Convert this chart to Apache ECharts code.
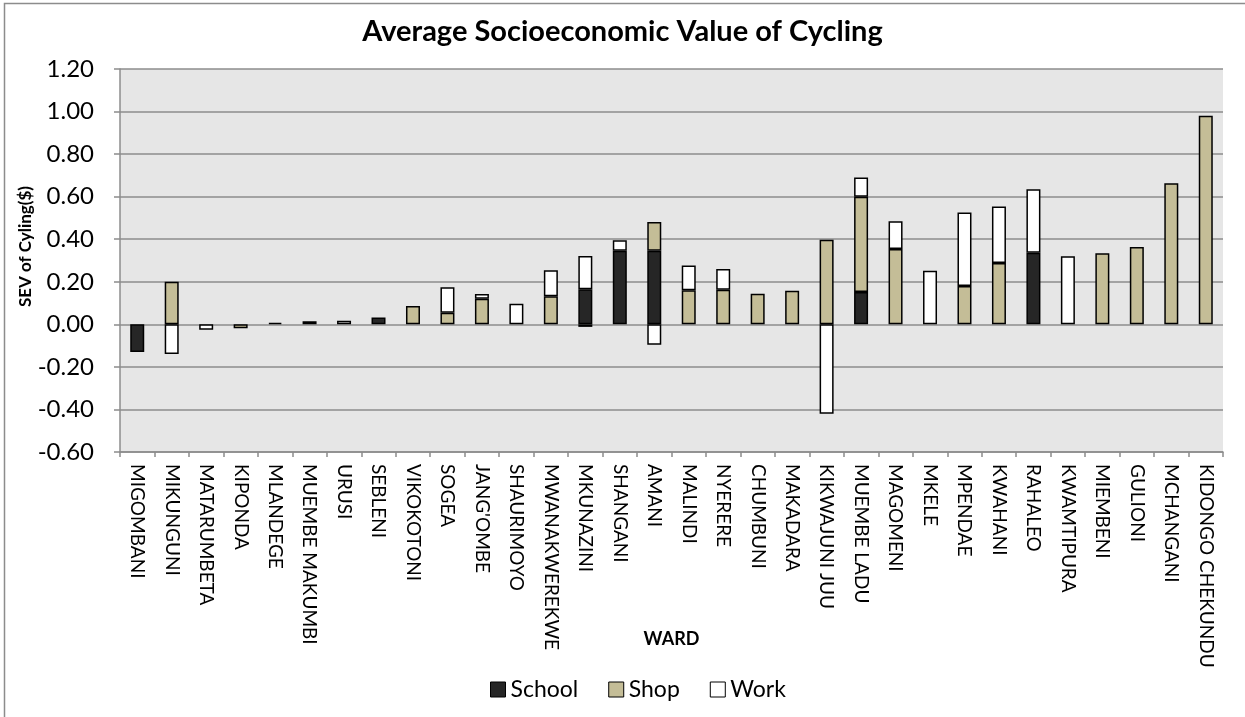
<!DOCTYPE html>
<html>
<head>
<meta charset="utf-8">
<title>Average Socioeconomic Value of Cycling</title>
<script src="https://cdn.jsdelivr.net/npm/echarts@6/dist/echarts.min.js"></script>
<style>
  html, body { margin: 0; padding: 0; background: #fff; }
  #chart { width: 1245px; height: 717px; }
</style>
</head>
<body>
<div id="chart"></div>
<script>
// wards, left to right
const wards = [
  'MIGOMBANI', 'MIKUNGUNI', 'MATARUMBETA', 'KIPONDA', 'MLANDEGE', 'MUEMBE MAKUMBI',
  'URUSI', 'SEBLENI', 'VIKOKOTONI', 'SOGEA', "JANG'OMBE", 'SHAURIMOYO',
  'MWANAKWEREKWE', 'MKUNAZINI', 'SHANGANI', 'AMANI', 'MALINDI', 'NYERERE',
  'CHUMBUNI', 'MAKADARA', 'KIKWAJUNI JUU', 'MUEMBE LADU', 'MAGOMENI', 'MKELE',
  'MPENDAE', 'KWAHANI', 'RAHALEO', 'KWAMTIPURA', 'MIEMBENI', 'GULIONI',
  'MCHANGANI', 'KIDONGO CHEKUNDU'
];

// segment values per trip purpose (null = no segment)
const school = [
  -0.13, null, null, null, 0.007, null,
  null, 0.032, null, null, null, null,
  null, 0.165, 0.346, 0.346, null, null,
  null, null, null, 0.152, null, null,
  null, null, 0.337, null, null, null,
  null, null
];
const shop = [
  null, 0.20, null, -0.018, null, 0.015,
  null, null, 0.086, 0.055, 0.12, null,
  0.132, -0.012, null, 0.135, 0.16, 0.162,
  0.144, 0.158, 0.398, 0.448, 0.354, null,
  0.18, 0.288, null, null, 0.334, 0.364,
  0.663, 0.98
];
const work = [
  null, -0.14, -0.025, null, null, null,
  0.017, null, null, 0.119, 0.023, 0.097,
  0.122, 0.156, 0.049, -0.096, 0.116, 0.098,
  null, null, -0.42, 0.09, 0.13, 0.252,
  0.346, 0.266, 0.298, 0.32, null, null,
  null, null
];

const FONT = 'Lato';

const chart = echarts.init(document.getElementById('chart'));

function barSeries(name, color, data) {
  return {
    name: name,
    type: 'bar',
    stack: 'sev',
    barWidth: 14,
    data: data,
    itemStyle: {
      color: color,
      borderColor: '#000',
      borderWidth: 1.5
    }
  };
}

chart.setOption({
  backgroundColor: '#fff',
  animation: false,
  title: {
    text: 'Average Socioeconomic Value of Cycling',
    left: 'center',
    top: 12,
    textStyle: { fontFamily: FONT, fontSize: 29, fontWeight: 'bold', color: '#000' }
  },
  legend: {
    left: 490,
    top: 678,
    padding: 0,
    icon: 'rect',
    itemWidth: 15,
    itemHeight: 15,
    itemGap: 30,
    itemStyle: { borderColor: '#000', borderWidth: 1 },
    textStyle: { fontFamily: FONT, fontSize: 23, color: '#000' },
    data: ['School', 'Shop', 'Work']
  },
  grid: {
    left: 120,
    right: 22,
    top: 69,
    bottom: 265,
    show: true,
    backgroundColor: '#e6e6e6',
    borderWidth: 0
  },
  xAxis: {
    type: 'category',
    data: wards,
    name: 'WARD',
    nameLocation: 'middle',
    nameGap: 178,
    nameMoveOverlap: false,
    nameTextStyle: { fontFamily: FONT, fontSize: 18, fontWeight: 'bold', color: '#000' },
    axisLine: { onZero: false, lineStyle: { color: '#8c8c8c', width: 1.5 } },
    axisTick: { show: true, length: 5, lineStyle: { color: '#8c8c8c', width: 1.5 } },
    axisLabel: {
      rotate: -90,
      interval: 0,
      margin: 12,
      fontFamily: FONT,
      fontSize: 19,
      color: '#000'
    }
  },
  yAxis: {
    type: 'value',
    min: -0.6,
    max: 1.2,
    interval: 0.2,
    name: 'SEV of Cyling($)',
    nameLocation: 'middle',
    nameGap: 86,
    nameMoveOverlap: false,
    nameTextStyle: { fontFamily: FONT, fontSize: 17, fontWeight: 'bold', color: '#000', padding: [0, 0, 0, 28] },
    axisLine: { show: true, lineStyle: { color: '#8c8c8c', width: 1.5 } },
    axisTick: { show: true, length: 6, lineStyle: { color: '#8c8c8c', width: 1.5 } },
    axisLabel: {
      margin: 26,
      fontFamily: FONT,
      fontSize: 24,
      color: '#000',
      formatter: function (v) { return v.toFixed(2); }
    },
    splitLine: { lineStyle: { color: '#8c8c8c', width: 1.5 } }
  },
  graphic: [{
    type: 'rect',
    shape: { x: 4.5, y: 3.5, width: 1300, height: 800 },
    style: { fill: 'none', stroke: '#8c8c8c', lineWidth: 1.5 },
    silent: true
  }],
  series: [
    barSeries('School', '#262626', school),
    barSeries('Shop', '#c4bd97', shop),
    barSeries('Work', '#ffffff', work)
  ]
});
</script>
</body>
</html>
